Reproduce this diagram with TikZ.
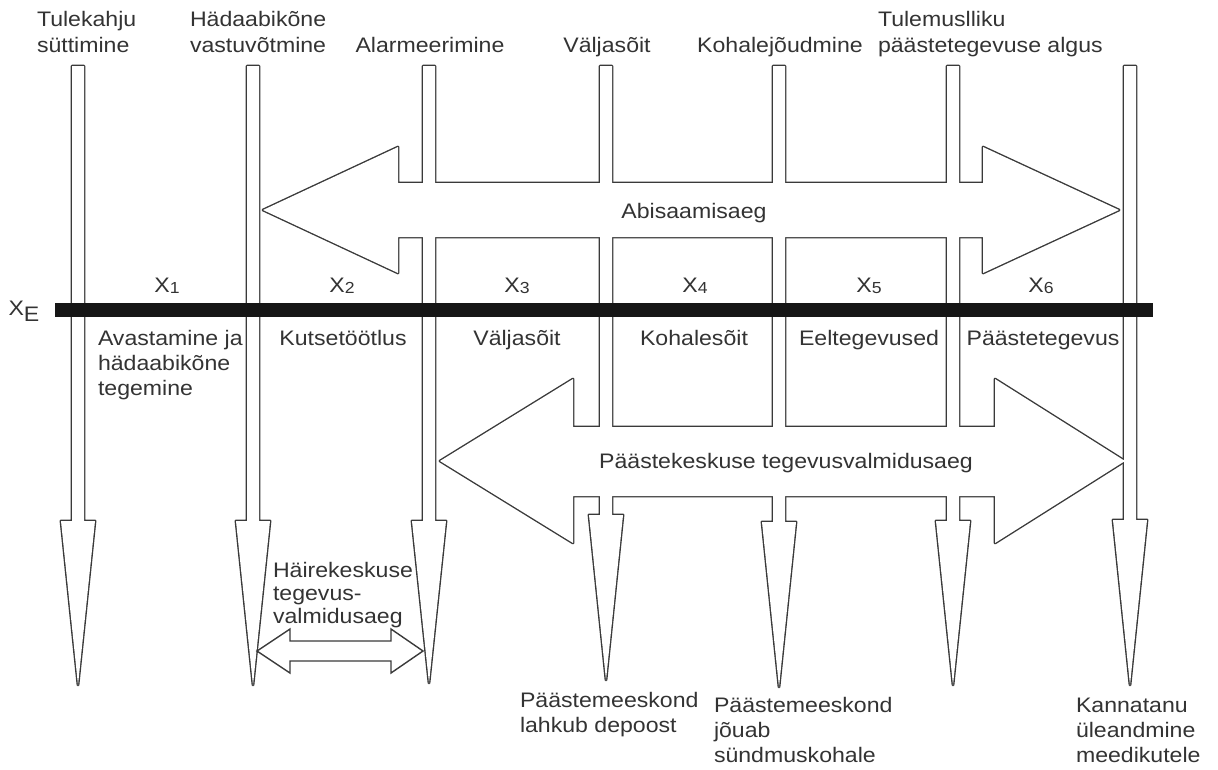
\documentclass[tikz,border=0pt]{standalone}
\usepackage{fontspec}
\setmainfont{Liberation Sans}[FakeStretch=1.1]
\definecolor{ln}{HTML}{3A3A3A}
\definecolor{tx}{HTML}{333333}
\definecolor{bar}{HTML}{161616}
\newcommand\varrow[3]{(#1-6,66) -- (#1+6,66) -- (#1+6,#2) -- (#1+17,#2) -- (#1,#3) -- (#1-17,#2) -- (#1-6,#2) -- cycle}
\newcommand\toparrow{(263,210) -- (398,147) -- (398,183) -- (983,183) -- (983,147) -- (1119,210) -- (983,273) -- (983,237) -- (398,237) -- (398,273) -- cycle}
\newcommand\lowarrow{(440,461) -- (573,379) -- (573,427) -- (995,427) -- (995,379) -- (1125,461) -- (995,543) -- (995,496) -- (573,496) -- (573,543) -- cycle}
\newcommand\xs[2]{#1\raisebox{-0.08em}{\fontsize{16}{16}\selectfont #2}}
\tikzset{
  outline/.style={draw=ln, line width=2.8pt, line join=round},
  inner/.style={fill=white},
  lbl/.style={inner sep=0pt, outer sep=0pt, text=tx, font=\fontsize{21}{26}\selectfont, align=left},
  lblb/.style={lbl, font=\fontsize{21}{25}\selectfont},
}
\begin{document}
\begin{tikzpicture}[x=1pt,y=-1pt]
\useasboundingbox (0,0) rectangle (1218,769);
% outlines of the union of all arrows
\foreach \c/\s/\t in {78/521/685,253/521/685,429/521/683,606/515/680,779/522/687,953/521/685,1130/520/685}{
  \path[outline] \varrow{\c}{\s}{\t};
}
\path[outline] \toparrow;
\path[outline] \lowarrow;
\foreach \c/\s/\t in {78/521/685,253/521/685,429/521/683,606/515/680,779/522/687,953/521/685,1130/520/685}{
  \path[inner] \varrow{\c}{\s}{\t};
}
\path[inner] \toparrow;
\path[inner] \lowarrow;
% small double arrow
\path[draw=ln, line width=1.4pt, fill=white] (257,651) -- (290,629) -- (290,641) -- (391,641) -- (391,629) -- (423,651) -- (391,673) -- (391,661) -- (290,661) -- (290,673) -- cycle;
% time line
\draw[line width=14pt, bar] (55,310) -- (1153,310);
% top labels (base = last line)
\node[lbl, anchor=base west] (t1) at (37,52) {Tulekahju\\süttimine};
\node[lbl, anchor=base west] (t2) at (190,52) {Hädaabikõne\\vastuvõtmine};
\node[lbl, anchor=base] (t3) at (430,52) {Alarmeerimine};
\node[lbl, anchor=base] (t4) at (607,52) {Väljasõit};
\node[lbl, anchor=base] (t5) at (780,52) {Kohalejõudmine};
\node[lbl, anchor=base west] (t6) at (878,52) {Tulemuslliku\\päästetegevuse algus};
% arrow labels
\node[lbl, anchor=base] (abi) at (694,218) {Abisaamisaeg};
\node[lbl, anchor=base] (pk) at (786,468) {Päästekeskuse tegevusvalmidusaeg};
% X labels
\node[lbl, anchor=base] (xe) at (24,315) {X\raisebox{-6pt}{E}};
\node[lbl, anchor=base] (x1) at (167,292) {\xs{X}{1}};
\node[lbl, anchor=base] (x2) at (342,292) {\xs{X}{2}};
\node[lbl, anchor=base] (x3) at (517,292) {\xs{X}{3}};
\node[lbl, anchor=base] (x4) at (695,292) {\xs{X}{4}};
\node[lbl, anchor=base] (x5) at (869,292) {\xs{X}{5}};
\node[lbl, anchor=base] (x6) at (1041,292) {\xs{X}{6}};
% phase labels
\node[lblb, anchor=base west] (p1) at (98,395) {Avastamine ja\\hädaabikõne\\tegemine};
\node[lbl, anchor=base] (p2) at (343,345) {Kutsetöötlus};
\node[lbl, anchor=base] (p3) at (517,345) {Väljasõit};
\node[lbl, anchor=base] (p4) at (694,345) {Kohalesõit};
\node[lbl, anchor=base] (p5) at (869,345) {Eeltegevused};
\node[lbl, anchor=base] (p6) at (1043,345) {Päästetegevus};
% bottom labels
\node[lbl, font=\fontsize{21}{23}\selectfont, anchor=base west] (hk) at (273,623) {Häirekeskuse\\tegevus-\\valmidusaeg};
\node[lblb, anchor=base west] (b4) at (520,732) {Päästemeeskond\\lahkub depoost};
\node[lblb, anchor=base west] (b5) at (714,762) {Päästemeeskond\\jõuab\\sündmuskohale};
\node[lblb, anchor=base west] (b7) at (1076,762) {Kannatanu\\üleandmine\\meedikutele};
\end{tikzpicture}
\end{document}
